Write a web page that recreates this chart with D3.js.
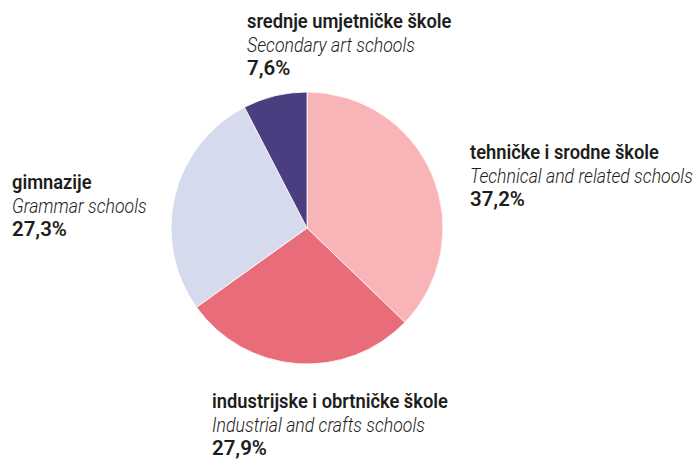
<!DOCTYPE html>
<html>
<head>
<meta charset="utf-8">
<script src="https://cdn.jsdelivr.net/npm/d3@7"></script>
<style>
  body { margin: 0; background: #fff; }
  text { font-family: Roboto, "DejaVu Sans Condensed", sans-serif; fill: #1d1d1b; }
</style>
</head>
<body>
<svg id="chart"></svg>
<script>
const labelsHr = ["tehničke i srodne škole", "industrijske i obrtničke škole", "gimnazije", "srednje umjetničke škole"];
const labelsEn = ["Technical and related schools", "Industrial and crafts schools", "Grammar schools", "Secondary art schools"];
const shares = [37.2, 27.9, 27.3, 7.6];
const colors = ["#f9b4b7", "#e86c79", "#d5daec", "#4b3e80"];
// label anchor (left x, first baseline)
const labelPos = [[470, 159], [212, 408], [12, 189], [247, 28]];

const width = 696, height = 459;
const cx = 307, cy = 228, r = 136;
const lineGap = 23.5;

const svg = d3.select("#chart").attr("width", width).attr("height", height);

const pie = d3.pie().sort(null).value(d => d);
const arc = d3.arc().innerRadius(0).outerRadius(r);

const g = svg.append("g").attr("transform", `translate(${cx},${cy})`);
g.selectAll("path")
    .data(pie(shares))
    .join("path")
    .attr("d", arc)
    .attr("fill", (d, i) => colors[i])
    .attr("stroke", "#fff")
    .attr("stroke-width", 0.8);

const lab = svg.append("g").selectAll("g")
    .data(shares)
    .join("g")
    .attr("transform", (d, i) => `translate(${labelPos[i][0]},${labelPos[i][1]})`);

// each line in its own group so it can be squeezed to a condensed look
const hr = lab.append("g");
hr.append("text")
    .text((d, i) => labelsHr[i])
    .style("font-size", "19.5px")
    .style("font-weight", 600);

const en = lab.append("g");
en.append("text")
    .text((d, i) => labelsEn[i])
    .style("font-size", "19.5px")
    .style("font-weight", 300)
    .style("font-style", "italic");

const pct = lab.append("g");
pct.append("text")
    .text(d => d3.format(".1f")(d).replace(".", ",") + "%")
    .style("font-size", "20px")
    .style("font-weight", 600);

// squeeze factors from the widths of the first label in the reference
const sxHr = 189 / hr.select("text").node().getComputedTextLength();
const sxEn = 223 / en.select("text").node().getComputedTextLength();
const sxPct = 55 / pct.select("text").node().getComputedTextLength();
hr.attr("transform", `scale(${sxHr},1)`);
en.attr("transform", `translate(0,${lineGap}) scale(${sxEn},1)`);
pct.attr("transform", `translate(0,${2 * lineGap}) scale(${sxPct},1)`);
</script>
</body>
</html>
